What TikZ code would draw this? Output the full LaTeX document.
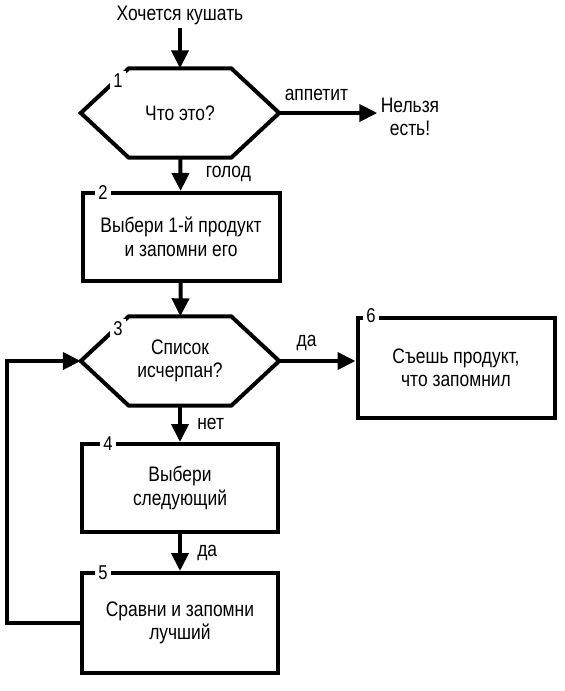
\documentclass[tikz,border=0pt]{standalone}
\usepackage{fontspec}
\setmainfont{Liberation Sans}[FakeStretch=0.83]
\usetikzlibrary{arrows.meta}
\tikzset{
  every node/.style={font=\fontsize{21}{23.5}\selectfont, align=center},
  block/.style={draw, line width=4pt, minimum width=197pt, minimum height=88pt},
  hexa/.style={minimum width=198pt, minimum height=89pt},
  numlab/.style={fill=white, inner sep=3pt, font=\fontsize{20}{20}\selectfont},
  flow/.style={line width=4pt, -{Triangle[length=18pt,width=17pt]}}
}
\begin{document}
\begin{tikzpicture}[x=1pt,y=-1pt]
      \useasboundingbox (0,0) rectangle (565,691);
      \draw
        (180,15) node (start){Хочется кушать}
        (180,113) node[hexa] (q1){Что это?}
        (410,117) node (stop){Нельзя\\есть!}
        (181,237) node[block] (b2){Выбери 1-й продукт\\и запомни его}
        (180,361) node[hexa] (q3){Список\\исчерпан?}
        (456,368) node[block, minimum height=100pt] (b6){Съешь продукт,\\что запомнил}
        (180,488) node[block, minimum width=196pt] (b4){Выбери\\следующий}
        (180,623) node[block, minimum width=196pt, minimum height=100pt] (b5){Сравни и запомни\\лучший};
      \foreach \q in {q1,q3}
        \draw[line width=4pt] (\q.west) -- ([xshift=48pt]\q.north west) -- ([xshift=-48pt]\q.north east)
          -- (\q.east) -- ([xshift=-48pt]\q.south east) -- ([xshift=48pt]\q.south west) -- cycle;
      \node[numlab] (n1) at (118,81) {1};
      \node[numlab] (n2) at (103,193) {2};
      \node[numlab] (n3) at (118,329) {3};
      \node[numlab] (n4) at (108,444) {4};
      \node[numlab] (n5) at (103,573) {5};
      \node[numlab] (n6) at (371,316) {6};
      \begin{scope}[flow]
        \draw (start) to (q1);
        \draw (q1.east) to node[pos=.38, above=7pt]{аппетит} (q1.east -| stop.west);
        \draw (q1) to node[right=20pt]{голод} (b2);
        \draw (b2) to (q3);
        \draw (q3.east) to node[pos=.36, above=5pt]{да} (q3.east -| b6.west);
        \draw (q3) to node[right=12pt]{нет} (b4);
        \draw (b4) to node[right=12pt]{да} (b5);
        \draw (b5.west) -- ++(-73,0) |- (q3.west);
      \end{scope}
    \end{tikzpicture}
\end{document}
